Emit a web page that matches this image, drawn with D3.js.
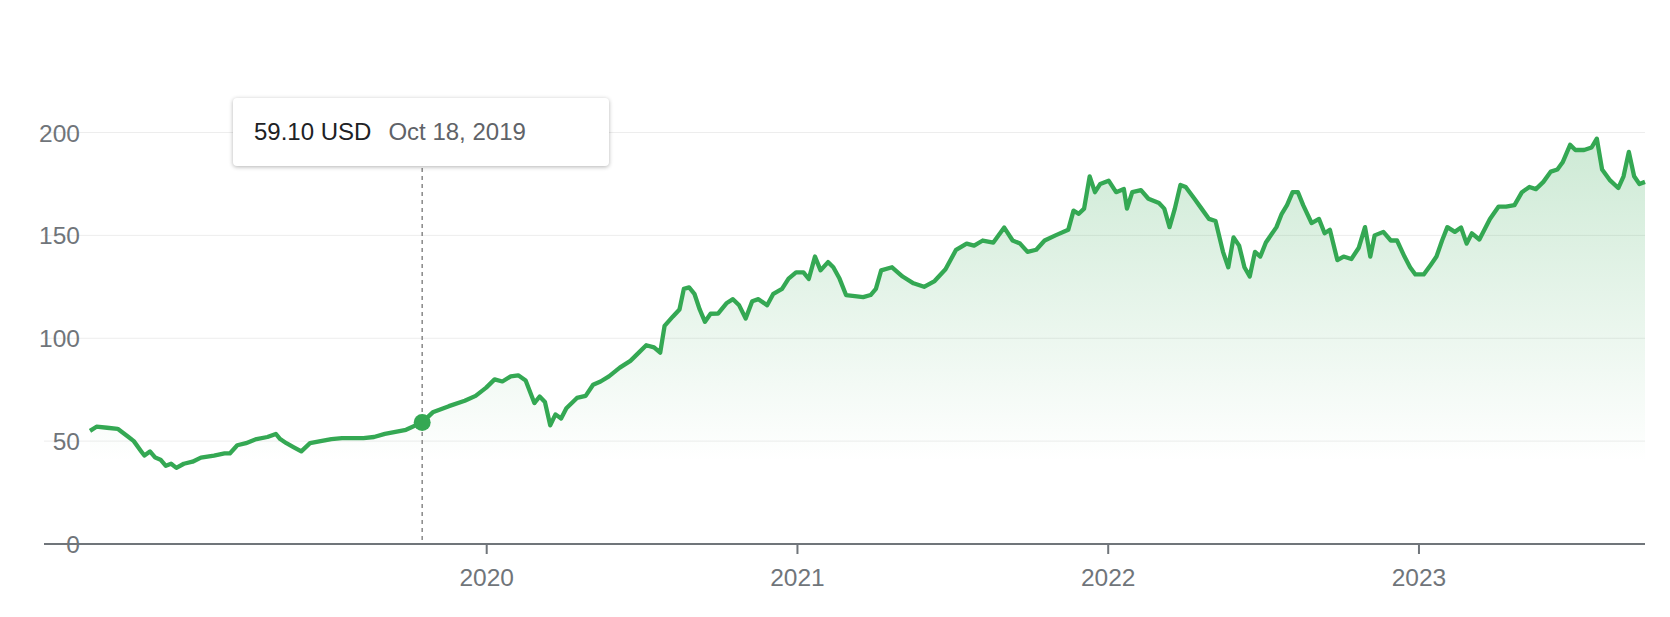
<!DOCTYPE html>
<html>
<head>
<meta charset="utf-8">
<script src="https://cdn.jsdelivr.net/npm/d3@7"></script>
<style>
  body { margin: 0; background: #fff; font-family: Arial, "Liberation Sans", sans-serif; }
  #chart { position: relative; width: 1670px; height: 617px; }
  .tooltip {
    position: absolute; left: 233px; top: 98px; width: 376px; height: 68px;
    background: #fff; border-radius: 4px; box-sizing: border-box;
    box-shadow: 0 1px 4px rgba(0,0,0,0.3); font-size: 24px;
    display: flex; align-items: center; padding-left: 21px; white-space: nowrap;
  }
  .tooltip .price { color: #202124; }
  .tooltip .date { color: #5f6368; margin-left: 17px; }
</style>
</head>
<body>
<div id="chart"></div>
<script>
// decimal years and closing price in USD
const dates = [2018.725,2018.746,2018.780,2018.814,2018.849,2018.866,2018.890,2018.900,2018.918,2018.935,2018.952,2018.969,2018.986,
  2019.003,2019.027,2019.055,2019.082,2019.124,2019.158,2019.175,2019.199,2019.227,2019.261,2019.296,2019.323,2019.337,2019.357,2019.381,
  2019.405,2019.433,2019.467,2019.502,2019.536,2019.570,2019.605,2019.639,2019.674,2019.708,2019.742,2019.794,2019.828,2019.880,2019.931,2019.966,
  2020.000,2020.027,2020.052,2020.079,2020.103,2020.127,2020.155,2020.172,2020.189,2020.206,2020.223,2020.241,2020.258,2020.292,2020.320,
  2020.344,2020.368,2020.395,2020.430,2020.464,2020.491,2020.515,2020.540,2020.560,2020.574,2020.601,2020.622,2020.636,2020.653,2020.670,
  2020.687,2020.704,2020.722,2020.746,2020.773,2020.794,2020.814,2020.835,2020.856,2020.876,2020.904,2020.924,2020.952,2020.973,
  2020.997,2021.021,2021.038,2021.058,2021.076,2021.100,2021.117,2021.137,2021.158,2021.186,2021.213,2021.237,2021.254,2021.271,2021.306,
  2021.340,2021.375,2021.409,2021.443,2021.478,2021.512,2021.546,2021.570,2021.598,2021.632,2021.667,2021.694,2021.718,2021.742,2021.770,
  2021.797,2021.832,2021.873,2021.890,2021.907,2021.924,2021.942,2021.959,2021.976,
  2022.003,2022.027,2022.052,2022.062,2022.079,2022.107,2022.131,2022.165,2022.182,2022.199,2022.216,2022.234,2022.251,2022.278,2022.302,
  2022.326,2022.347,2022.371,2022.388,2022.405,2022.423,2022.440,2022.457,2022.474,2022.491,2022.509,2022.543,2022.560,2022.577,2022.595,
  2022.612,2022.629,2022.656,2022.680,2022.698,2022.715,2022.739,2022.759,2022.784,2022.808,2022.828,2022.845,2022.859,2022.887,2022.911,
  2022.931,2022.955,2022.973,2022.990,
  2023.017,2023.041,2023.058,2023.076,2023.093,2023.117,2023.137,2023.155,2023.172,2023.196,2023.213,2023.230,2023.258,2023.282,2023.309,
  2023.333,2023.357,2023.378,2023.402,2023.426,2023.447,2023.464,2023.488,2023.505,2023.533,2023.557,2023.574,2023.591,2023.615,2023.643,
  2023.660,2023.677,2023.694,2023.711,2023.729];
const prices = [55,57,56.5,56,52,50,45,43,45,42,41,38,39,
  37,39,40,42,43,44,44,48,49,51,52,53.5,51,49,47,
  45,49,50,51,51.5,51.5,51.5,52,53.5,54.5,55.5,59.1,64,67,69.6,72,
  76,80,79,81.5,82,79.5,68.5,71.7,69,57.7,63,61,66,71,72,
  77.4,79,81.5,85.7,89,93,96.6,95.6,93,106,110.6,114,124,124.7,121.6,
  114,108,111.9,112,117,119,116,109.6,118,119,116,121.6,124,129,
  132,132,128.8,139.7,133,137,134.5,129,121,120.5,120,121,124,133,134.5,
  130,126.7,125,127.8,133.5,143,146,145,147.5,146.5,153.8,147.5,146,142,143,
  147.5,150,152.7,162,160.5,163,178.7,171,175,
  176.6,171,172.5,163,171,172,167.8,165.7,163,154,163,174.5,173.5,168,163,
  158,157,142,134.5,149,145,134.5,130,142,139.7,146.5,154,160.5,164.7,171,
  171,164.7,156,158,151,152.7,138,139.7,138.5,144,154,139.7,150,151.7,147.5,
  147.5,139.7,134.5,131,
  131,136,139.7,147.5,154,151.7,153.8,146,151,148,153,158,164,164,164.7,
  171,173.5,172.5,176,181,182,185.5,194,191.5,191.5,192.7,197,182,177,173,
  178.7,190.6,178.7,175,176];
const yTicks = [0, 50, 100, 150, 200];
const xTicks = [2020, 2021, 2022, 2023];
const tooltipPrice = "59.10 USD", tooltipDate = "Oct 18, 2019", tooltipAt = 2019.794, tooltipValue = 59.1;

const data = dates.map((d, i) => ({ t: d, v: prices[i] }));
const width = 1670, height = 617;
const left = 44, right = 1645, bottom = 544;

const x = d3.scaleLinear().domain([2018.577, 2023.729]).range([left, right]);
const y = d3.scaleLinear().domain([0, 200]).range([bottom, 132.5]);

const svg = d3.select("#chart").append("svg").attr("width", width).attr("height", height);

const grad = svg.append("defs").append("linearGradient")
  .attr("id", "fill").attr("gradientUnits", "userSpaceOnUse")
  .attr("x1", 0).attr("x2", 0).attr("y1", y(200)).attr("y2", y(40));
grad.append("stop").attr("offset", "0%").attr("stop-color", "#34a853").attr("stop-opacity", 0.25);
grad.append("stop").attr("offset", "100%").attr("stop-color", "#34a853").attr("stop-opacity", 0);

// gridlines
svg.append("g").selectAll("line").data(yTicks.filter(d => d > 0)).join("line")
  .attr("x1", left).attr("x2", right)
  .attr("y1", d => y(d)).attr("y2", d => y(d))
  .attr("stroke", "#ededed").attr("stroke-width", 1);

// y labels
svg.append("g").selectAll("text").data(yTicks).join("text")
  .attr("x", 80).attr("y", d => y(d) + 9)
  .attr("text-anchor", "end").attr("font-size", 24.5).attr("fill", "#70757a")
  .text(d => d);

// area and line
svg.append("path").datum(data)
  .attr("fill", "url(#fill)")
  .attr("d", d3.area().x(d => x(d.t)).y0(y(0)).y1(d => y(d.v)));
svg.append("path").datum(data)
  .attr("fill", "none").attr("stroke", "#34a853").attr("stroke-width", 4.3)
  .attr("stroke-linejoin", "round")
  .attr("d", d3.line().x(d => x(d.t)).y(d => y(d.v)));

// x axis
const xAxis = svg.append("g").attr("transform", `translate(0,${bottom})`)
  .call(d3.axisBottom(x).tickValues(xTicks).tickSize(10).tickFormat(d3.format("d")));
xAxis.select(".domain").attr("d", `M${left},0H${right}`).attr("stroke", "#70757a").attr("stroke-width", 2);
xAxis.selectAll(".tick line").attr("stroke", "#70757a").attr("stroke-width", 2);
xAxis.selectAll(".tick text").attr("font-size", 24.5).attr("fill", "#70757a")
  .attr("font-family", "Arial, 'Liberation Sans', sans-serif").attr("dy", "1.2em");

// hover marker
svg.append("line")
  .attr("x1", x(tooltipAt)).attr("x2", x(tooltipAt)).attr("y1", 168).attr("y2", bottom - 4)
  .attr("stroke", "#888").attr("stroke-width", 1.5).attr("stroke-dasharray", "4,4");
svg.append("circle").attr("cx", x(tooltipAt)).attr("cy", y(tooltipValue)).attr("r", 8.5)
  .attr("fill", "#34a853");

const tip = d3.select("#chart").append("div").attr("class", "tooltip");
tip.append("span").attr("class", "price").text(tooltipPrice);
tip.append("span").attr("class", "date").text(tooltipDate);
</script>
</body>
</html>
